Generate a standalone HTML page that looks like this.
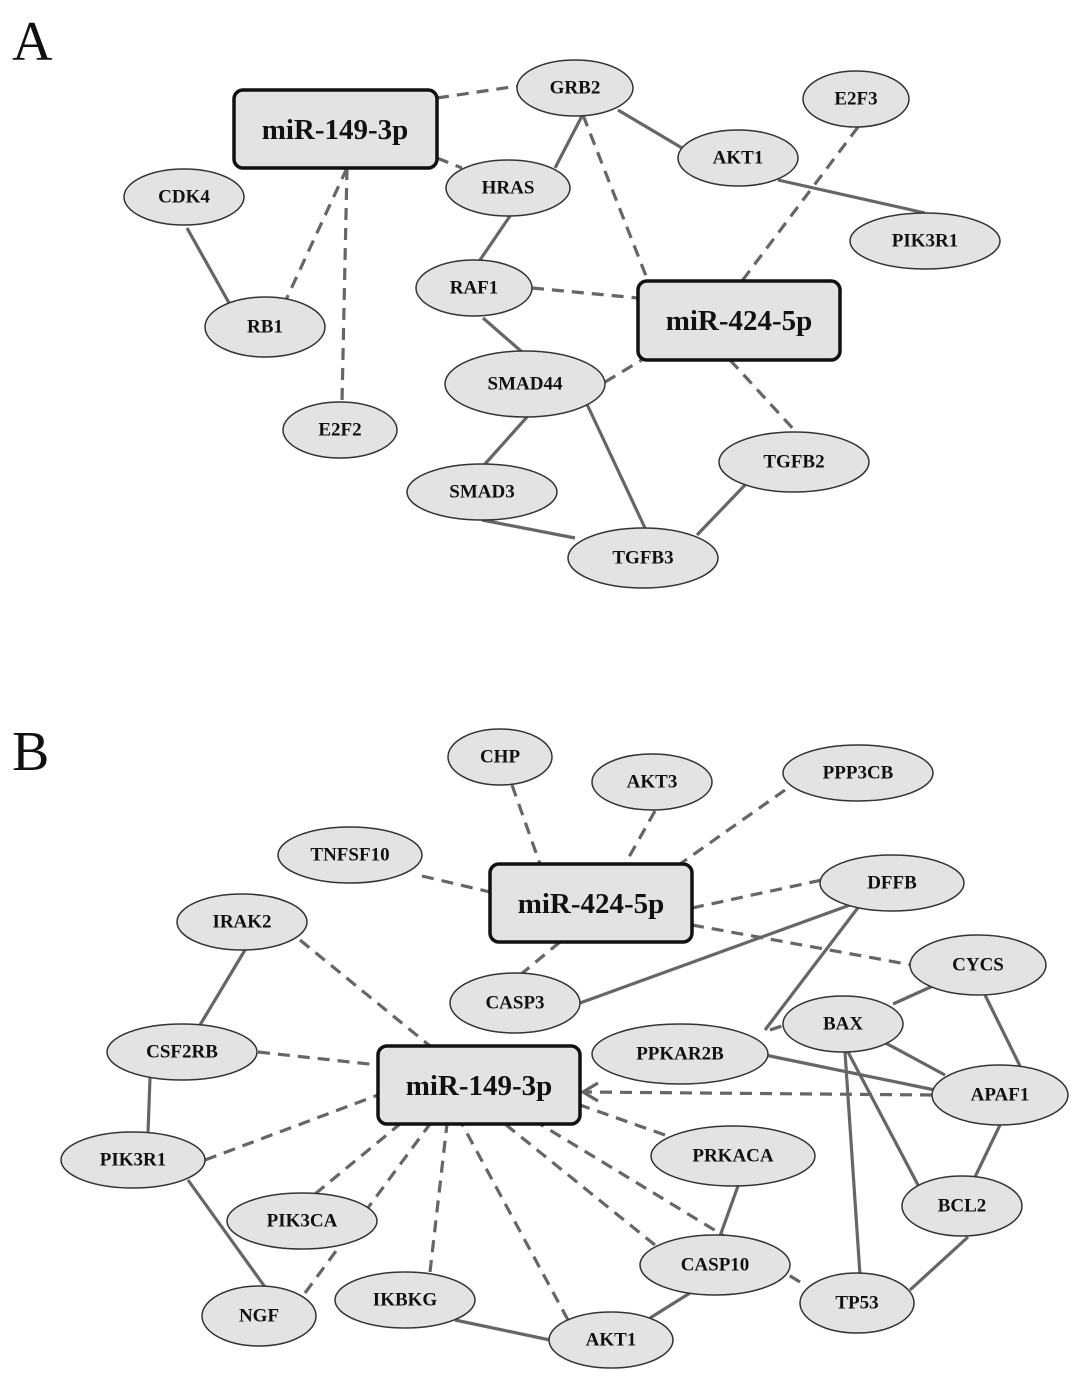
<!DOCTYPE html>
<html><head><meta charset="utf-8"><style>
html,body{margin:0;padding:0;background:#fff;}
svg{display:block;}
.e{fill:#e3e3e3;stroke:#333;stroke-width:1.5;}
.b{fill:#e3e3e3;stroke:#111;stroke-width:3.5;}
.s{stroke:#666;stroke-width:3.2;fill:none;}
.d{stroke:#666;stroke-width:3.2;fill:none;stroke-dasharray:12,8;}
.t{font-family:"Liberation Serif",serif;font-weight:bold;font-size:19px;fill:#111;text-anchor:middle;dominant-baseline:central;}
.bt{font-family:"Liberation Serif",serif;font-weight:bold;font-size:29px;fill:#111;text-anchor:middle;dominant-baseline:central;}
.L{font-family:"Liberation Serif",serif;font-size:56px;fill:#111;}
</style></head><body>
<svg width="1087" height="1381" viewBox="0 0 1087 1381" xmlns="http://www.w3.org/2000/svg">
<text class="L" x="12" y="60">A</text>
<text class="L" x="12" y="770">B</text>
<!-- Panel A edges -->
<g class="d">
<line x1="437" y1="98" x2="518" y2="86"/>
<line x1="437" y1="158" x2="462" y2="168"/>
<line x1="347" y1="168" x2="285" y2="302"/>
<line x1="347" y1="168" x2="342" y2="402"/>
<line x1="583" y1="115" x2="648" y2="281"/>
<line x1="858" y1="127" x2="742" y2="281"/>
<line x1="532" y1="288" x2="638" y2="298"/>
<line x1="605" y1="382" x2="645" y2="358"/>
<line x1="730" y1="360" x2="797" y2="433"/>
</g>
<g class="s">
<line x1="582" y1="116" x2="555" y2="168"/>
<line x1="618" y1="110" x2="682" y2="148"/>
<line x1="778" y1="180" x2="925" y2="213"/>
<line x1="510" y1="216" x2="480" y2="260"/>
<line x1="187" y1="228" x2="233" y2="310"/>
<line x1="483" y1="318" x2="522" y2="352"/>
<line x1="527" y1="417" x2="485" y2="464"/>
<line x1="585" y1="400" x2="645" y2="528"/>
<line x1="482" y1="520" x2="575" y2="538"/>
<line x1="697" y1="535" x2="745" y2="485"/>
</g>
<!-- Panel A nodes -->
<rect class="b" x="234" y="90" width="203" height="78" rx="9"/><text class="bt" x="335" y="130">miR-149-3p</text>
<rect class="b" x="638" y="281" width="202" height="79" rx="9"/><text class="bt" x="739" y="321">miR-424-5p</text>
<ellipse class="e" cx="575" cy="88" rx="58" ry="28"/><text class="t" x="575" y="88">GRB2</text>
<ellipse class="e" cx="856" cy="99" rx="53" ry="28"/><text class="t" x="856" y="99">E2F3</text>
<ellipse class="e" cx="738" cy="158" rx="60" ry="28"/><text class="t" x="738" y="158">AKT1</text>
<ellipse class="e" cx="508" cy="188" rx="62" ry="28"/><text class="t" x="508" y="188">HRAS</text>
<ellipse class="e" cx="184" cy="197" rx="60" ry="28"/><text class="t" x="184" y="197">CDK4</text>
<ellipse class="e" cx="925" cy="241" rx="75" ry="28"/><text class="t" x="925" y="241">PIK3R1</text>
<ellipse class="e" cx="474" cy="288" rx="58" ry="28"/><text class="t" x="474" y="288">RAF1</text>
<ellipse class="e" cx="265" cy="327" rx="60" ry="30"/><text class="t" x="265" y="327">RB1</text>
<ellipse class="e" cx="525" cy="384" rx="80" ry="33"/><text class="t" x="525" y="384">SMAD44</text>
<ellipse class="e" cx="340" cy="430" rx="57" ry="28"/><text class="t" x="340" y="430">E2F2</text>
<ellipse class="e" cx="794" cy="462" rx="75" ry="30"/><text class="t" x="794" y="462">TGFB2</text>
<ellipse class="e" cx="482" cy="492" rx="75" ry="28"/><text class="t" x="482" y="492">SMAD3</text>
<ellipse class="e" cx="643" cy="558" rx="75" ry="30"/><text class="t" x="643" y="558">TGFB3</text>
<!-- Panel B edges -->
<g class="d">
<line x1="512" y1="785" x2="540" y2="864"/>
<line x1="655" y1="811" x2="625" y2="864"/>
<line x1="785" y1="790" x2="680" y2="864"/>
<line x1="422" y1="876" x2="490" y2="892"/>
<line x1="692" y1="908" x2="822" y2="880"/>
<line x1="692" y1="925" x2="912" y2="965"/>
<line x1="520" y1="975" x2="560" y2="942"/>
<line x1="300" y1="940" x2="430" y2="1046"/>
<line x1="258" y1="1052" x2="378" y2="1065"/>
<line x1="205" y1="1160" x2="378" y2="1095"/>
<line x1="315" y1="1194" x2="400" y2="1124"/>
<line x1="305" y1="1293" x2="430" y2="1124"/>
<line x1="430" y1="1272" x2="447" y2="1124"/>
<line x1="568" y1="1320" x2="462" y2="1124"/>
<line x1="655" y1="1245" x2="505" y2="1124"/>
<line x1="800" y1="1282" x2="540" y2="1124"/>
<line x1="665" y1="1135" x2="580" y2="1105"/>
<line x1="932" y1="1095" x2="584" y2="1092"/>
<line x1="770" y1="1030" x2="785" y2="1025"/>
</g>
<polyline class="s" points="598,1083 583,1092 598,1101"/>
<g class="s">
<line x1="245" y1="950" x2="200" y2="1025"/>
<line x1="150" y1="1078" x2="148" y2="1133"/>
<line x1="188" y1="1180" x2="265" y2="1287"/>
<line x1="455" y1="1320" x2="550" y2="1340"/>
<line x1="650" y1="1318" x2="690" y2="1293"/>
<line x1="738" y1="1186" x2="720" y2="1236"/>
<line x1="580" y1="1003" x2="850" y2="905"/>
<line x1="860" y1="905" x2="765" y2="1030"/>
<line x1="935" y1="985" x2="893" y2="1004"/>
<line x1="985" y1="995" x2="1020" y2="1066"/>
<line x1="880" y1="1040" x2="945" y2="1075"/>
<line x1="765" y1="1055" x2="935" y2="1090"/>
<line x1="848" y1="1052" x2="918" y2="1185"/>
<line x1="845" y1="1052" x2="860" y2="1275"/>
<line x1="1000" y1="1125" x2="975" y2="1177"/>
<line x1="968" y1="1237" x2="910" y2="1290"/>
</g>
<!-- Panel B nodes -->
<ellipse class="e" cx="500" cy="757" rx="52" ry="28"/><text class="t" x="500" y="757">CHP</text>
<ellipse class="e" cx="652" cy="782" rx="60" ry="28"/><text class="t" x="652" y="782">AKT3</text>
<ellipse class="e" cx="858" cy="773" rx="75" ry="28"/><text class="t" x="858" y="773">PPP3CB</text>
<ellipse class="e" cx="350" cy="855" rx="72" ry="28"/><text class="t" x="350" y="855">TNFSF10</text>
<rect class="b" x="490" y="864" width="202" height="78" rx="9"/><text class="bt" x="591" y="904">miR-424-5p</text>
<ellipse class="e" cx="892" cy="883" rx="72" ry="28"/><text class="t" x="892" y="883">DFFB</text>
<ellipse class="e" cx="242" cy="922" rx="65" ry="28"/><text class="t" x="242" y="922">IRAK2</text>
<ellipse class="e" cx="978" cy="965" rx="68" ry="30"/><text class="t" x="978" y="965">CYCS</text>
<ellipse class="e" cx="515" cy="1003" rx="65" ry="30"/><text class="t" x="515" y="1003">CASP3</text>
<ellipse class="e" cx="182" cy="1052" rx="75" ry="28"/><text class="t" x="182" y="1052">CSF2RB</text>
<ellipse class="e" cx="680" cy="1054" rx="88" ry="30"/><text class="t" x="680" y="1054">PPKAR2B</text>
<ellipse class="e" cx="843" cy="1024" rx="60" ry="28"/><text class="t" x="843" y="1024">BAX</text>
<rect class="b" x="378" y="1046" width="202" height="78" rx="9"/><text class="bt" x="479" y="1086">miR-149-3p</text>
<ellipse class="e" cx="1000" cy="1095" rx="68" ry="30"/><text class="t" x="1000" y="1095">APAF1</text>
<ellipse class="e" cx="133" cy="1160" rx="72" ry="28"/><text class="t" x="133" y="1160">PIK3R1</text>
<ellipse class="e" cx="733" cy="1156" rx="82" ry="30"/><text class="t" x="733" y="1156">PRKACA</text>
<ellipse class="e" cx="962" cy="1206" rx="60" ry="30"/><text class="t" x="962" y="1206">BCL2</text>
<ellipse class="e" cx="302" cy="1221" rx="75" ry="28"/><text class="t" x="302" y="1221">PIK3CA</text>
<ellipse class="e" cx="715" cy="1265" rx="75" ry="30"/><text class="t" x="715" y="1265">CASP10</text>
<ellipse class="e" cx="259" cy="1316" rx="57" ry="30"/><text class="t" x="259" y="1316">NGF</text>
<ellipse class="e" cx="405" cy="1300" rx="70" ry="28"/><text class="t" x="405" y="1300">IKBKG</text>
<ellipse class="e" cx="857" cy="1303" rx="57" ry="30"/><text class="t" x="857" y="1303">TP53</text>
<ellipse class="e" cx="611" cy="1340" rx="62" ry="28"/><text class="t" x="611" y="1340">AKT1</text>
</svg>
</body></html>
